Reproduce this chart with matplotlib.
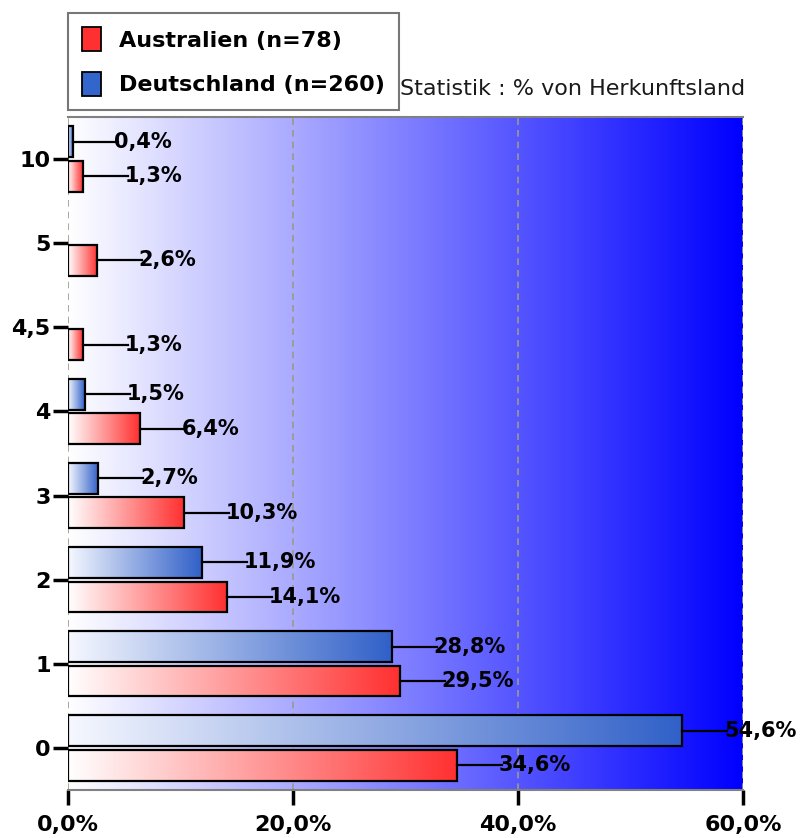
import numpy as np
import matplotlib
matplotlib.use("Agg")
import matplotlib.pyplot as plt
from matplotlib.patches import Patch
from matplotlib.colors import LinearSegmentedColormap

# ---- data ----
categories = ["0", "1", "2", "3", "4", "4,5", "5", "10"]
australien = [34.6, 29.5, 14.1, 10.3, 6.4, 1.3, 2.6, 1.3]
deutschland = [54.6, 28.8, 11.9, 2.7, 1.5, 0.0, 0.0, 0.4]
series_names = ["Australien (n=78)", "Deutschland (n=260)"]
xticks = [0, 20, 40, 60]
xtick_labels = ["0,0%", "20,0%", "40,0%", "60,0%"]
stat_text = "Statistik : % von Herkunftsland"

plt.rcParams['font.family'] = ['DejaVu Sans']

W, H = 800, 838
fig = plt.figure(figsize=(W / 100, H / 100), dpi=100)
ax = fig.add_axes([68 / W, 1 - 790 / H, (743 - 68) / W, (790 - 117) / H])

xmax = 60
ax.set_xlim(0, xmax)
ax.set_ylim(-0.5, len(categories) - 0.5)

# background gradient white -> blue
bg_cmap = LinearSegmentedColormap.from_list("bg", ["#ffffff", "#0000ff"])
grad = np.linspace(0, 1, 256).reshape(1, -1)
ax.imshow(grad, cmap=bg_cmap, aspect="auto", extent=[0, xmax, -0.5, len(categories) - 0.5],
          zorder=0, interpolation="bilinear")

# grid
for xv in xticks:
    ax.axvline(xv, color="#9a9a8a", ls=(0, (4, 3)), lw=1.2, zorder=1)

red_cmap = LinearSegmentedColormap.from_list("r", ["#ffffff", "#ff3030"])
blue_cmap = LinearSegmentedColormap.from_list("b", ["#f6f8ff", "#3060c8"])

y = np.arange(len(categories))
bh = 0.365
off = 0.205
lead = 4.0
FS = 16
LFS = 15


def draw(vals, ypos, cmap):
    bars = ax.barh(ypos, vals, height=bh, facecolor="none", edgecolor="black", lw=1.6, zorder=3)
    for b, v in zip(bars, vals):
        if v <= 0:
            b.set_linewidth(0)
            continue
        x0, y0 = b.get_x(), b.get_y()
        ax.imshow(grad, cmap=cmap, aspect="auto", extent=[x0, x0 + v, y0, y0 + b.get_height()],
                  zorder=2, interpolation="bilinear", clip_path=b, clip_on=True)
        yc = y0 + b.get_height() / 2
        ax.plot([v, v + lead], [yc, yc], color="black", lw=1.6, zorder=4, clip_on=False)
        ax.text(v + lead - 0.3, yc, f"{v:.1f}%".replace(".", ","), ha="left", va="center",
                fontsize=LFS, fontweight="bold", color="black", zorder=5)


draw(australien, y - off, red_cmap)
draw(deutschland, y + off, blue_cmap)
ax.set_xlim(0, xmax)
ax.set_ylim(-0.5, len(categories) - 0.5)

ax.set_yticks(y)
ax.set_yticklabels(categories, fontsize=FS, fontweight="bold")
ax.set_xticks(xticks)
ax.set_xticklabels(xtick_labels, fontsize=FS, fontweight="bold")
ax.tick_params(axis="x", direction="out", length=11, width=2.5, pad=7, color="black")
ax.tick_params(axis="y", direction="out", length=11, width=2.5, pad=1.5, color="black")

for s in ["left", "right"]:
    ax.spines[s].set_visible(False)
for s in ["top", "bottom"]:
    ax.spines[s].set_color("#808080")
    ax.spines[s].set_linewidth(1.5)

handles = [Patch(facecolor="#ff3030", edgecolor="black", lw=1.3),
           Patch(facecolor="#3366cc", edgecolor="black", lw=1.3)]
leg = fig.legend(handles, series_names, loc="upper left",
                 bbox_to_anchor=(68 / W, 1 - 13 / H), bbox_transform=fig.transFigure,
                 frameon=True, fancybox=False, edgecolor="#555555",
                 prop={"size": FS, "weight": "bold"}, handlelength=0.85, handleheight=1.25,
                 handletextpad=0.8, labelspacing=0.95, borderpad=0.65, borderaxespad=0)
leg.get_frame().set_linewidth(1.5)

fig.text(400 / W, 1 - 89 / H, stat_text, fontsize=16, ha="left", va="center", color="#1a1a1a")

fig.savefig("out.png", dpi=100)
